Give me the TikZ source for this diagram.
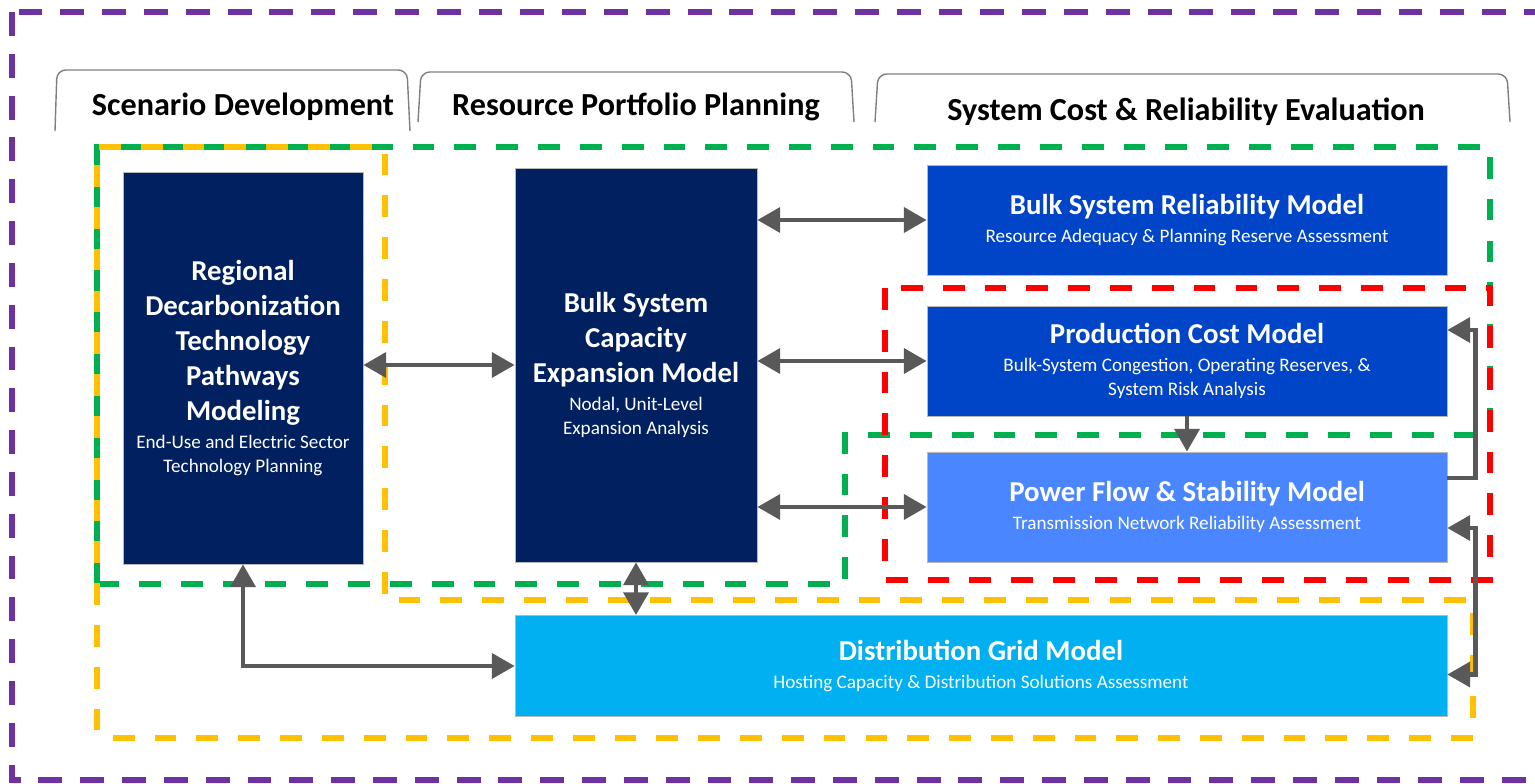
\documentclass[tikz,border=0pt]{standalone}
\usepackage{fontspec}
\setmainfont{Carlito}
\usetikzlibrary{arrows.meta}

\definecolor{navy}{HTML}{002060}
\definecolor{royal}{HTML}{0044C8}
\definecolor{sky}{HTML}{4A86FF}
\definecolor{cyanbox}{HTML}{00B0F0}
\definecolor{arrowgray}{HTML}{595959}
\definecolor{tabgray}{HTML}{7F7F7F}
\definecolor{zonepurple}{HTML}{7030A0}
\definecolor{zonegreen}{HTML}{00B050}
\definecolor{zoneyellow}{HTML}{FFC000}
\definecolor{zonered}{HTML}{FF0000}

\newcommand{\mtitle}{\fontsize{16.4}{19.9}\selectfont\bfseries}
\newcommand{\msub}{\fontsize{10.9}{13.6}\selectfont\mdseries}
\newcommand{\tabfont}{\fontsize{18.3}{22}\selectfont\bfseries}

\begin{document}
\begin{tikzpicture}[x=0.02cm, y=-0.02cm,
  >={Triangle[length=13pt,width=14pt]},
  model/.style={fill=#1, draw=gray!55, line width=0.4pt, text=white, align=center, inner sep=0pt, font=\mtitle},
  link/.style={draw=arrowgray, line width=2.8pt},
  zone/.style={line width=3.1pt, dash pattern=on 12.4pt off 11.4pt},
  tab/.style={draw=tabgray, line width=0.8pt, rounded corners=5pt},
  tabtitle/.style={font=\tabfont, text=black, inner sep=0pt}]
\useasboundingbox (0,0) rectangle (1535,784);

% Outer frame
\draw[zonepurple, line width=3.2pt, dash pattern=on 13.6pt off 10.2pt] (12,12) rectangle (1580,780);

% Tabs
\draw[tab] (55,131) -- (57,70) -- (407,70) -- (410,131);
\draw[tab] (418,122) -- (421,72) -- (851,72) -- (854,122);
\draw[tab] (875,122) -- (878,74) -- (1507,74) -- (1510,122);
\node[tabtitle] (scen) at (243,107) {Scenario Development};
\node[tabtitle] (port) at (636,107) {Resource Portfolio Planning};
\node[tabtitle] (eval) at (1186,112) {System Cost \& Reliability Evaluation};

% Zones
\draw[zone, zonegreen] (97,584) -- (97,147) -- (1490,147) -- (1490,435) -- (845,435) -- (845,584) -- cycle;
\draw[zone, zoneyellow, dash phase=19.5pt] (97,738) -- (97,147) -- (385,147) -- (385,600) -- (1473,600) -- (1473,738) -- cycle;
\draw[zone, zonered] (885,288) rectangle (1490,580);

% Models
\node[model=navy, minimum width=4.8cm, minimum height=7.84cm] (rdtp) at (243,368)
  {Regional\\Decarbonization\\Technology\\Pathways\\Modeling\\[-4pt]\msub End-Use and Electric Sector\\[-6.3pt]\msub Technology Planning};
\node[model=navy, minimum width=4.84cm, minimum height=7.88cm] (bsce) at (636,365)
  {Bulk System\\Capacity\\Expansion Model\\[-4pt]\msub Nodal, Unit-Level\\[-6.3pt]\msub Expansion Analysis};
\node[model=royal, minimum width=10.4cm, minimum height=2.2cm] (bsr) at (1187,220)
  {Bulk System Reliability Model\\[-4pt]\msub Resource Adequacy \& Planning Reserve Assessment};
\node[model=royal, minimum width=10.4cm, minimum height=2.2cm] (pcm) at (1187,361)
  {Production Cost Model\\[-4pt]\msub Bulk-System Congestion, Operating Reserves, \&\\[-6.3pt]\msub System Risk Analysis};
\node[model=sky, minimum width=10.4cm, minimum height=2.2cm] (pfs) at (1187,507)
  {Power Flow \& Stability Model\\[-4pt]\msub Transmission Network Reliability Assessment};
\node[model=cyanbox, minimum width=18.64cm, minimum height=2.02cm] (dgm) at (981,666)
  {Distribution Grid Model\\[-4pt]\msub Hosting Capacity \& Distribution Solutions Assessment};

% Arrows
\draw[link, <->] (rdtp.east |- bsce) -- (bsce.west);
\draw[link, <->] (bsce.east |- bsr) -- (bsr.west);
\draw[link, <->] (bsce.east |- pcm) -- (pcm.west);
\draw[link, <->] (bsce.east |- pfs) -- (pfs.west);
\draw[link, <->] (bsce.south) -- (bsce.south |- dgm.north);
\draw[link, <->] (rdtp.south) |- (dgm.west);
\draw[link, ->] (pcm.south) -- (pfs.north);
\draw[link, ->] ([yshift=0.58cm]pfs.east) -- ++(28,0) |- ([yshift=0.62cm]pcm.east);
\draw[link, <->] ([yshift=-0.42cm]pfs.east) -- ++(28,0) |- ([yshift=-0.17cm]dgm.east);
\end{tikzpicture}
\end{document}
